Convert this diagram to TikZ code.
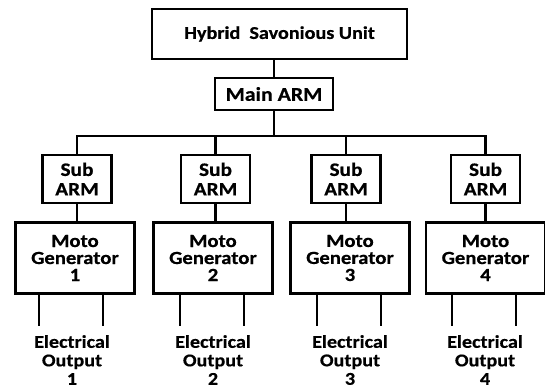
\documentclass[tikz,border=0pt]{standalone}
\usepackage{fontspec}
\setmainfont{Carlito}[FakeStretch=1.12, BoldFeatures={FakeBold=0.6}]

\begin{document}
\begin{tikzpicture}[x=1pt, y=-1pt, line width=2.2pt,
  box/.style={draw, line width=2.4pt, align=center, inner sep=0pt},
  txt/.style={align=center, inner sep=0pt, font=\bfseries\fontsize{18}{18.5}\selectfont}]
\useasboundingbox (0,0) rectangle (545,388);
\node[box, minimum width=255, minimum height=50, font=\bfseries\fontsize{18}{19}\selectfont] (unit) at (279.5,34) {Hybrid\ \ Savonious Unit};
\node[box, minimum width=118, minimum height=32, font=\bfseries\fontsize{19.5}{20}\selectfont] (main) at (274,94) {Main ARM};
\coordinate (bus) at (274,136);
\draw (main.north |- unit.south) -- (main.north);
\draw (main.south) -- (bus);
\foreach \i/\sx/\mx/\ox in {1/77/75/72, 2/215.5/213/213, 3/346/350/350, 4/485.5/485.5/485} {
  \node[box, minimum width=69, minimum height=48, font=\bfseries\fontsize{19}{19.5}\selectfont] (sub\i) at (\sx,179) {Sub\\ARM};
  \node[box, minimum width=119, minimum height=71, font=\bfseries\fontsize{18.5}{17}\selectfont] (mg\i) at (\mx,258) {Moto\\Generator\\\i};
  \node[txt] (out\i) at (\ox,360) {Electrical\\Output\\\i};
  \draw (sub\i.north) |- (bus);
  \draw (sub\i.south) -- (sub\i.south |- mg\i.north);
  \draw[shorten >=8pt] ([xshift=-33pt]out\i.north |- mg\i.south) -- ([xshift=-33pt]out\i.north);
  \draw[shorten >=8pt] ([xshift=31pt]out\i.north |- mg\i.south) -- ([xshift=31pt]out\i.north);
}
\end{tikzpicture}
\end{document}
